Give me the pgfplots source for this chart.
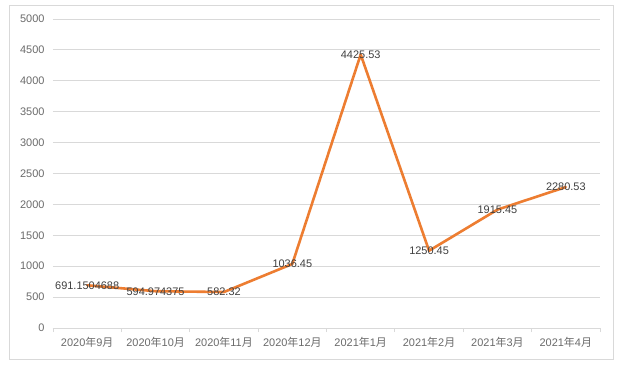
\documentclass[border=0pt]{standalone}
\usepackage{fontspec}
\setmainfont{Liberation Sans}
\newfontfamily\cjk{Noto Sans CJK SC}
\usepackage{pgfplots}
\usepackage{pgfplotstable}
\pgfplotsset{compat=1.18}
\definecolor{lineorange}{HTML}{ED7D31}
\definecolor{gridgray}{HTML}{D9D9D9}
\definecolor{ticktext}{HTML}{6B6B6B}
\definecolor{labeltext}{HTML}{404040}
\definecolor{framegray}{HTML}{D9D9D9}
\pgfplotstableread{
x y label
0 691.1504688 691.1504688
1 594.974375 594.974375
2 582.32 582.32
3 1036.45 1036.45
4 4425.53 4425.53
5 1250.45 1250.45
6 1915.45 1915.45
7 2280.53 2280.53
}\datatable
\newcommand{\m}[2]{#1{\cjk 年}#2{\cjk 月}}
\begin{document}
\begin{tikzpicture}
\path[use as bounding box] (-53bp,-43bp) rectangle (569bp,328bp);
\fill[white] (-53bp,-43bp) rectangle (569bp,328bp);
\draw[framegray, line width=0.8bp] (-44bp,-31bp) rectangle (560bp,323bp);
\begin{axis}[
  at={(0,0)}, anchor=south west,
  scale only axis, width=547bp, height=309bp,
  xmin=-0.5, xmax=7.5, ymin=0, ymax=5000,
  ytick={0,500,...,5000},
  xtick={0,...,7},
  xticklabels={\m{2020}{9},\m{2020}{10},\m{2020}{11},\m{2020}{12},\m{2021}{1},\m{2021}{2},\m{2021}{3},\m{2021}{4}},
  minor xtick={-0.5,0.5,...,7.5},
  xtick pos=bottom, ytick pos=left,
  major tick length=0pt,
  minor tick length=4bp,
  tick align=outside,
  tick style={gridgray, line width=0.8bp},
  minor tick style={gridgray, line width=0.8bp},
  ymajorgrids, major grid style={gridgray, line width=0.8bp},
  axis line style={draw=none},
  ticklabel style={font=\fontsize{11}{13}\selectfont, text=ticktext},
  yticklabel style={xshift=-5bp},
  xticklabel style={yshift=-6bp},
  /pgf/number format/assume math mode=true,
  /pgf/number format/1000 sep={},
  scaled y ticks=false,
  clip=false,
  enlargelimits=false,
]
\addplot[gridgray, line width=0.8bp, forget plot] coordinates {(-0.5,0) (7.5,0)};
\addplot[lineorange, line width=2.6bp, line join=round, line cap=round,
  nodes near coords, point meta=explicit symbolic,
  nodes near coords style={anchor=center, font=\fontsize{11}{13}\selectfont, text=labeltext}]
  table[x=x, y=y, meta=label] {\datatable};
\end{axis}
\end{tikzpicture}
\end{document}
